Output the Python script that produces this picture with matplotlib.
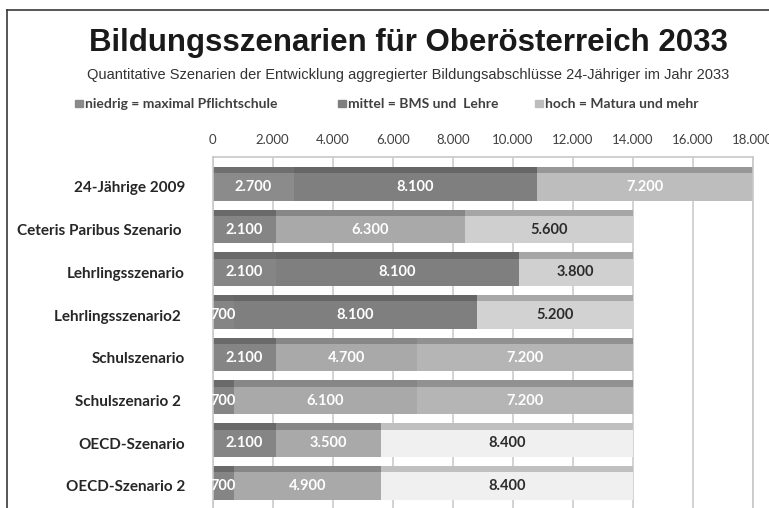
import matplotlib
matplotlib.use("Agg")
import matplotlib.pyplot as plt
from matplotlib.patches import Rectangle
from matplotlib.lines import Line2D
import matplotlib.colors as mcolors
import numpy as np

# data
categories = ["24-Jährige 2009", "Ceteris Paribus Szenario ", "Lehrlingsszenario",
              "Lehrlingsszenario2 ", "Schulszenario", "Schulszenario 2 ",
              "OECD-Szenario", "OECD-Szenario 2"]
niedrig = [2700, 2100, 2100, 700, 2100, 700, 2100, 700]
mittel = [8100, 6300, 8100, 8100, 4700, 6100, 3500, 4900]
hoch = [7200, 5600, 3800, 5200, 7200, 7200, 8400, 8400]
legend_labels = ["niedrig = maximal Pflichtschule", "mittel = BMS und  Lehre",
                 "hoch = Matura und mehr"]
xticks = np.arange(0, 18001, 2000)

# grey shade for each segment (row = bar)
seg_colors = [
    ["#8b8b8b", "#7f7f7f", "#bdbdbe"],
    ["#858585", "#a9a9a9", "#cfcfcf"],
    ["#858585", "#7f7f7f", "#d0d0d0"],
    ["#858585", "#7f7f7f", "#d2d2d2"],
    ["#858585", "#a9a9a9", "#b5b5b5"],
    ["#858585", "#a9a9a9", "#b5b5b5"],
    ["#858585", "#a9a9a9", "#eff0ef"],
    ["#858585", "#a9a9a9", "#eff0ef"],
]
legend_colors = ["#8a8a8a", "#7f7f7f", "#bdbdbd"]

calibri = ["Lato", "DejaVu Sans"]
W, H = 769, 508

fig = plt.figure(figsize=(W / 100, H / 100), dpi=100)
fig.patch.set_facecolor("white")

ax = fig.add_axes([212.7 / W, 0, 540 / W, 1 - 157 / H])

body_h = 0.64
top_h = 0.15
y = np.arange(len(categories))
series = [niedrig, mittel, hoch]
left = np.zeros(len(categories))
for j, vals in enumerate(series):
    vals = np.array(vals)
    cols = [seg_colors[i][j] for i in range(len(categories))]
    tops = [tuple(0.8 * c for c in mcolors.to_rgb(col)) for col in cols]
    ax.barh(y, vals, left=left, height=body_h, color=cols, zorder=2)
    ax.barh(y - body_h / 2 - top_h / 2, vals, left=left, height=top_h,
            color=tops, zorder=2)
    for i in range(len(categories)):
        lum = np.mean(mcolors.to_rgb(cols[i]))
        tc = "#2b2b2b" if lum > 0.78 else "white"
        ax.text(left[i] + vals[i] / 2, y[i], f"{vals[i]:,}".replace(",", "."),
                ha="center", va="center", color=tc, fontsize=10.5,
                fontweight="bold", family=calibri, zorder=3, clip_on=False)
    left = left + vals

ax.set_xlim(0, 18000)
ax.set_ylim(7.515, -0.70)
ax.set_xticks(xticks)
ax.set_xticklabels([f"{v:,}".replace(",", ".") for v in xticks],
                   fontsize=9.5, color="#404040", family=calibri)
ax.xaxis.tick_top()
ax.tick_params(axis="x", length=0, pad=8)
ax.set_yticks(y)
ax.set_yticklabels(categories, fontsize=11, fontweight="bold",
                   color="#262626", family=calibri)
ax.tick_params(axis="y", length=0, pad=20)
ax.grid(axis="x", color="#cccccc", lw=1.2, zorder=0)
ax.set_axisbelow(True)
for s in ["top", "left", "right"]:
    ax.spines[s].set_color("#c8c8c8")
    ax.spines[s].set_linewidth(1.2)
ax.spines["bottom"].set_visible(False)

# title block
fig.text(408 / W, 1 - 43 / H, "Bildungsszenarien für Oberösterreich 2033",
         ha="center", va="center", fontsize=22.5, fontweight="bold",
         color="#1a1a1a", family=["Liberation Sans", "DejaVu Sans"])
fig.text(408 / W, 1 - 75 / H,
         "Quantitative Szenarien der Entwicklung aggregierter Bildungsabschlüsse 24-Jähriger im Jahr 2033",
         ha="center", va="center", fontsize=10.5, color="#333333",
         family=["Liberation Sans", "DejaVu Sans"])

# legend
sq_x = [75, 338, 535]
for sx, lab, col in zip(sq_x, legend_labels, legend_colors):
    fig.patches.append(Rectangle((sx / W, 1 - 107 / H), 8 / W, 7 / H,
                                 transform=fig.transFigure, color=col))
    fig.text((sx + 10) / W, 1 - 103.5 / H, lab, ha="left", va="center",
             fontsize=10, fontweight="bold", color="#404040", family=calibri)

# frame lines
fig.add_artist(Line2D([7 / W, 1], [1 - 10 / H, 1 - 10 / H], color="#3a3a3a",
                      lw=1.2, transform=fig.transFigure))
fig.add_artist(Line2D([7 / W, 7 / W], [0, 1 - 10 / H], color="#3a3a3a",
                      lw=1.2, transform=fig.transFigure))

fig.savefig("out.png", dpi=100)
